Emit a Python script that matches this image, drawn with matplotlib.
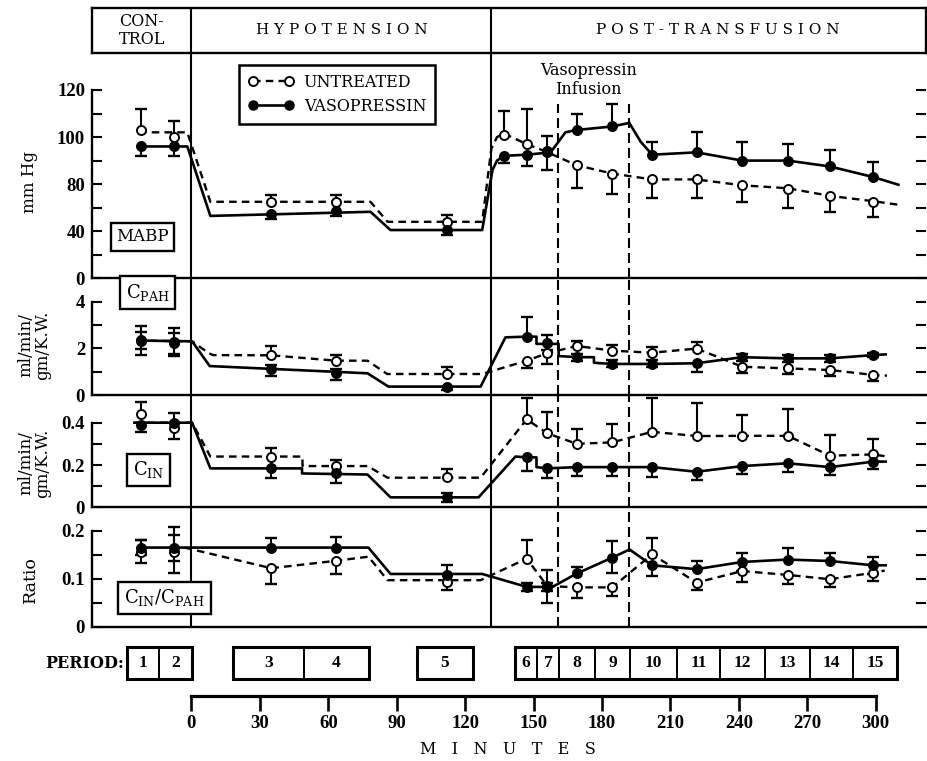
import numpy as np
import matplotlib
matplotlib.use("Agg")
import matplotlib.pyplot as plt
from matplotlib.patches import Rectangle
from matplotlib.lines import Line2D

plt.rcParams['font.family'] = ['DejaVu Serif']
plt.rcParams['mathtext.fontset'] = 'dejavuserif'

# ------------------------------------------------------------------ data
# sampling times, minutes after onset of hypotension
t_mabp = [-22, -7.5, 35, 63.5, 112, 137, 147, 156, 169, 184.5, 202, 221.5, 241.5, 261.5, 280, 299]
t_per = [-22, -7.5, 35, 63.5, 112, 147, 156, 169, 184.5, 202, 221.5, 241.5, 261.5, 280, 299]

# phase boundaries, minutes
t_hypotension = 0
t_transfusion = 131.5
t_infusion = [160.7, 191.9]

# mean arterial blood pressure, mm Hg
mabp_untr = [103, 100, 65, 65, 48, 101, 97, 94, 88, 84.5, 82, 82, 79, 76, 69.5, 65]
mabp_untr_lo = [0, 0, 0, 0, 0, 0, 0, 8, 11, 13, 14, 14, 14, 16, 13, 13]
mabp_untr_hi = [9, 7, 6, 6, 6, 10, 15, 0, 0, 0, 0, 0, 0, 0, 0, 0]
mabp_vaso = [96, 96, 55, 57, 41, 92, 92.5, 93.5, 103, 104.5, 92.5, 93.5, 90, 90, 87.5, 83]
mabp_vaso_lo = [4, 4, 5, 4, 4, 3, 5, 0, 0, 0, 0, 0, 0, 0, 0, 0]
mabp_vaso_hi = [0, 0, 0, 0, 0, 0, 0, 7, 7, 9.5, 5.5, 8.5, 8, 7, 7, 6.5]
mabp_untr_curve_t = [-23, -1.8, 8.3, 78.5, 86, 127.5, 131.5, 134, 137, 147, 155, 169, 184.5, 202, 221.5, 241.5, 261.5, 280, 299, 310]
mabp_untr_curve_v = [102, 102, 65, 65, 48, 48, 95, 100, 101.5, 97, 94, 88, 84.5, 82, 82, 79, 76.5, 70, 65.5, 62.5]
mabp_vaso_curve_t = [-22, -1.8, 8.3, 78.5, 87.3, 127.5, 132, 134, 137, 147, 157.5, 164, 169, 184.5, 192, 197, 202, 221.5, 241.5, 261.5, 280, 299, 310]
mabp_vaso_curve_v = [96, 96, 53, 56.5, 41, 41, 86, 90, 92, 92.5, 93.5, 102, 103, 104.5, 106, 98, 92.5, 93.5, 90, 90, 87.5, 83, 79.5]

# PAH clearance, ml/min/gm K.W.
cpah_untr = [2.33, 2.24, 1.70, 1.47, 0.90, 1.47, 1.79, 2.10, 1.90, 1.81, 1.99, 1.21, 1.14, 1.07, 0.86]
cpah_untr_lo = [0.62, 0.56, 0, 0, 0, 0.33, 0.48, 0, 0, 0, 0, 0.28, 0.25, 0.25, 0.25]
cpah_untr_hi = [0.64, 0.62, 0.40, 0.25, 0.31, 0, 0, 0.23, 0.25, 0.23, 0.29, 0, 0, 0, 0]
cpah_vaso = [2.36, 2.29, 1.11, 0.93, 0.33, 2.50, 2.24, 1.62, 1.33, 1.33, 1.36, 1.62, 1.57, 1.57, 1.71]
cpah_vaso_lo = [0.39, 0.53, 0.30, 0.28, 0.10, 0, 0.30, 0.15, 0.15, 0.15, 0.39, 0.15, 0.15, 0.15, 0.10]
cpah_vaso_hi = [0.35, 0.35, 0.18, 0.18, 0, 0.86, 0.33, 0.15, 0.15, 0.15, 0, 0.15, 0.15, 0.15, 0.10]
cpah_untr_curve_t = [-24, 0.3, 7.6, 9.5, 35, 63.5, 77.2, 85.8, 127.5, 147, 156, 169, 184.5, 202, 221.5, 241.5, 261.5, 280, 299, 305]
cpah_untr_curve_v = [2.33, 2.3, 1.79, 1.71, 1.70, 1.47, 1.47, 0.90, 0.90, 1.47, 1.79, 2.10, 1.90, 1.81, 1.99, 1.21, 1.14, 1.07, 0.86, 0.83]
cpah_vaso_curve_t = [-21, 0.3, 8, 77.2, 86.4, 126.8, 137.7, 147, 151.3, 151.3, 161, 161, 169, 176.5, 176.5, 184.5, 202, 221.5, 241.5, 261.5, 280, 299, 304.4]
cpah_vaso_curve_v = [2.33, 2.3, 1.24, 0.93, 0.36, 0.36, 2.47, 2.5, 2.5, 2.19, 2.19, 1.67, 1.62, 1.62, 1.38, 1.33, 1.33, 1.36, 1.62, 1.57, 1.57, 1.71, 1.74]

# inulin clearance, ml/min/gm K.W.
cin_untr = [0.44, 0.373, 0.24, 0.195, 0.142, 0.416, 0.35, 0.30, 0.307, 0.357, 0.337, 0.338, 0.338, 0.244, 0.25]
cin_untr_lo = [0, 0.05, 0, 0, 0, 0, 0, 0, 0, 0, 0, 0, 0, 0, 0]
cin_untr_hi = [0.06, 0, 0.04, 0.03, 0.04, 0.10, 0.10, 0.07, 0.087, 0.16, 0.155, 0.10, 0.125, 0.10, 0.075]
cin_vaso = [0.39, 0.40, 0.184, 0.16, 0.047, 0.236, 0.184, 0.19, 0.19, 0.19, 0.168, 0.195, 0.208, 0.19, 0.216]
cin_vaso_lo = [0.035, 0, 0.045, 0.045, 0.02, 0.065, 0.047, 0.04, 0.04, 0.045, 0.04, 0.038, 0.04, 0.035, 0.036]
cin_vaso_hi = [0, 0.045, 0, 0, 0.02, 0, 0, 0, 0, 0, 0, 0, 0, 0, 0]
cin_untr_curve_t = [-25, 0.3, 8.3, 48.7, 48.7, 77.2, 86, 126.8, 147, 156, 169, 184.5, 202, 221.5, 241.5, 261.5, 280, 299, 305]
cin_untr_curve_v = [0.40, 0.40, 0.24, 0.24, 0.195, 0.195, 0.14, 0.14, 0.416, 0.35, 0.30, 0.307, 0.357, 0.337, 0.338, 0.338, 0.244, 0.25, 0.24]
cin_vaso_curve_t = [-25, 0.3, 8.3, 48.5, 48.5, 77.2, 87.3, 125.9, 142.1, 147, 151.3, 151.3, 156, 169, 184.5, 202, 221.5, 241.5, 261.5, 280, 299, 304.4]
cin_vaso_curve_v = [0.40, 0.40, 0.184, 0.184, 0.16, 0.155, 0.047, 0.047, 0.24, 0.236, 0.236, 0.19, 0.184, 0.19, 0.19, 0.19, 0.168, 0.195, 0.208, 0.19, 0.216, 0.216]

# C_IN / C_PAH ratio
ratio_untr = [0.156, 0.156, 0.122, 0.1375, 0.094, 0.142, 0.085, 0.082, 0.082, 0.151, 0.092, 0.116, 0.108, 0.099, 0.1125]
ratio_untr_lo = [0.024, 0.045, 0.032, 0.027, 0.018, 0, 0.035, 0.023, 0.018, 0, 0.016, 0.022, 0.018, 0.016, 0.018]
ratio_untr_hi = [0.024, 0.052, 0, 0, 0, 0.039, 0.033, 0, 0, 0.035, 0, 0, 0, 0, 0]
ratio_vaso = [0.165, 0.165, 0.165, 0.165, 0.108, 0.083, 0.083, 0.111, 0.144, 0.128, 0.12, 0.135, 0.14, 0.137, 0.128]
ratio_vaso_lo = [0.016, 0.028, 0, 0, 0, 0.008, 0.008, 0, 0.033, 0.022, 0, 0.018, 0, 0, 0.018]
ratio_vaso_hi = [0.016, 0.026, 0.021, 0.022, 0.02, 0.008, 0.008, 0.014, 0.035, 0, 0.018, 0.018, 0.025, 0.017, 0.018]
ratio_untr_curve_t = [-3, 35, 63.5, 77.6, 86, 126.8, 147, 156, 169, 184.5, 202, 221.5, 241.5, 261.5, 280, 299, 304]
ratio_untr_curve_v = [0.165, 0.122, 0.1375, 0.146, 0.097, 0.097, 0.142, 0.085, 0.082, 0.082, 0.151, 0.092, 0.116, 0.108, 0.099, 0.1125, 0.117]
ratio_vaso_curve_t = [-22, 77.6, 87.3, 127.5, 147, 158.3, 169, 184.5, 192.1, 202, 221.5, 241.5, 261.5, 280, 299, 304.4]
ratio_vaso_curve_v = [0.165, 0.165, 0.11, 0.11, 0.083, 0.083, 0.111, 0.144, 0.161, 0.128, 0.12, 0.135, 0.14, 0.137, 0.128, 0.128]

# collection periods
period_names = [str(i) for i in range(1, 16)]
period_start = [-28.3, -14.3, 18.2, 49.3, 98.9, 142, 151.5, 161.2, 177, 192.3, 212.9, 231.8, 251.5, 271.3, 290.1]
period_end = [-14.3, 0.2, 49.3, 77.9, 123.5, 151.5, 161.2, 177, 192.3, 212.9, 231.8, 251.5, 271.3, 290.1, 309.4]
period_group = [0, 0, 1, 1, 2, 3, 3, 3, 3, 3, 3, 3, 3, 3, 3]
minute_ticks = list(range(0, 301, 30))

# ------------------------------------------------------------------ layout
W, H = 928, 761
fig = plt.figure(figsize=(W / 100, H / 100), dpi=100)
fig.patch.set_facecolor('white')

X0, X1 = 92, 926
XLIM = (-43.6, 322.1)
NUM = dict(fontfamily='Liberation Serif', fontweight='bold', fontsize=13.5)
DASH = (0, (3.2, 2.2))
VDASH = (0, (4.8, 2.4))


def fx(x):
    return x / W


def fy(y):
    return 1 - y / H


def strip(ytop, ybot):
    return fig.add_axes([fx(X0), fy(ybot), (X1 - X0) / W, (ybot - ytop) / H])


def style_panel(ax, ylim, ticks, labels, top):
    ax.set_xlim(XLIM)
    ax.set_ylim(ylim)
    ax.patch.set_visible(False)
    for s in ('top', 'right'):
        ax.spines[s].set_visible(False)
    ax.spines['left'].set_bounds(0, top)
    ax.spines['left'].set_linewidth(1.7)
    ax.spines['bottom'].set_linewidth(1.7)
    ax.set_xticks([])
    ax.set_yticks(ticks, labels, **NUM)
    ax.tick_params(axis='y', direction='in', length=7, width=1.5,
                   left=True, right=True, pad=5)
    ax.axvline(t_hypotension, color='k', lw=1.5, zorder=1)
    ax.axvline(t_transfusion, color='k', lw=1.5, zorder=1)


def draw_series(ax, t, y, lo, hi, curve_t, curve_v, filled):
    t, y, lo, hi = (np.asarray(a, float) for a in (t, y, lo, hi))
    ls = '-' if filled else DASH
    ax.plot(curve_t, curve_v, color='k', lw=1.9 if filled else 1.7,
            linestyle=ls, zorder=2, solid_joinstyle='round')
    ax.vlines(t, y - lo, y + hi, color='k', lw=1.5, zorder=3)
    up = hi > 0
    dn = lo > 0
    cap = dict(ls='none', marker='_', ms=8, mew=1.7, color='k', zorder=3)
    ax.plot(t[up], (y + hi)[up], **cap)
    ax.plot(t[dn], (y - lo)[dn], **cap)
    ax.plot(t, y, ls='none', marker='o', ms=6.5, mew=1.4, mec='k',
            mfc='k' if filled else 'white', zorder=5)


# ---- header strip with phase names
ax_h = strip(8, 53)
ax_h.set_xlim(XLIM)
ax_h.set_ylim(0, 1)
ax_h.set_xticks([])
ax_h.set_yticks([])
for s in ax_h.spines.values():
    s.set_linewidth(1.7)
ax_h.axvline(t_hypotension, color='k', lw=1.5)
ax_h.axvline(t_transfusion, color='k', lw=1.5)
ax_h.text((XLIM[0] + t_hypotension) / 2, 0.5, 'CON-\nTROL', ha='center',
          va='center', fontsize=11.5, linespacing=1.05)
ax_h.text((t_hypotension + t_transfusion) / 2, 0.5, 'H Y P O T E N S I O N',
          ha='center', va='center', fontsize=11)
ax_h.text((t_transfusion + XLIM[1]) / 2 + 4, 0.5,
          'P O S T - T R A N S F U S I O N', ha='center', va='center',
          fontsize=11)

# ---- MABP panel (axis compressed below 80 mm Hg)
def fwd(v):
    v = np.asarray(v, float)
    return np.where(v <= 80, v / 2, v - 40)


def inv(u):
    u = np.asarray(u, float)
    return np.where(u <= 40, u * 2, u + 40)


ax_m = strip(53, 278.3)
ax_m.set_yscale('function', functions=(fwd, inv))
style_panel(ax_m, (0, 135.7), [0, 20, 40, 60, 80, 90, 100, 110, 120],
            ['0', '', '40', '', '80', '', '100', '', '120'], 120)
ax_m.vlines(t_infusion, 0, 114, color='k', lw=1.5, linestyles=[VDASH])
draw_series(ax_m, t_mabp, mabp_untr, mabp_untr_lo, mabp_untr_hi,
            mabp_untr_curve_t, mabp_untr_curve_v, False)
draw_series(ax_m, t_mabp, mabp_vaso, mabp_vaso_lo, mabp_vaso_hi,
            mabp_vaso_curve_t, mabp_vaso_curve_v, True)

handles = [Line2D([], [], color='k', lw=1.7, linestyle=DASH, marker='o', ms=6.5,
                  mfc='white', mec='k', mew=1.4),
           Line2D([], [], color='k', lw=1.9, marker='o', ms=6.5, mfc='k', mec='k')]
leg = ax_m.legend(handles, ['UNTREATED', 'VASOPRESSIN'], loc='upper left',
                  bbox_to_anchor=(fx(239), fy(65)), bbox_transform=fig.transFigure,
                  borderaxespad=0, numpoints=2, handlelength=2.9,
                  handletextpad=0.6, labelspacing=0.45, borderpad=0.55,
                  fancybox=False, framealpha=1, edgecolor='k', fontsize=11.5)
leg.get_frame().set_linewidth(1.8)

# ---- C_PAH panel
ax_p = strip(278.3, 395)
style_panel(ax_p, (0, 5.0), [0, 1, 2, 3, 4], ['0', '', '2', '', '4'], 4)
for ti in t_infusion:
    ax_p.axvline(ti, color='k', lw=1.5, linestyle=VDASH)
draw_series(ax_p, t_per, cpah_untr, cpah_untr_lo, cpah_untr_hi,
            cpah_untr_curve_t, cpah_untr_curve_v, False)
draw_series(ax_p, t_per, cpah_vaso, cpah_vaso_lo, cpah_vaso_hi,
            cpah_vaso_curve_t, cpah_vaso_curve_v, True)

# ---- C_IN panel
ax_i = strip(395, 507.3)
style_panel(ax_i, (0, 0.531), [0, 0.1, 0.2, 0.3, 0.4], ['0', '', '0.2', '', '0.4'], 0.4)
for ti in t_infusion:
    ax_i.axvline(ti, color='k', lw=1.5, linestyle=VDASH)
draw_series(ax_i, t_per, cin_untr, cin_untr_lo, cin_untr_hi,
            cin_untr_curve_t, cin_untr_curve_v, False)
draw_series(ax_i, t_per, cin_vaso, cin_vaso_lo, cin_vaso_hi,
            cin_vaso_curve_t, cin_vaso_curve_v, True)

# ---- ratio panel
ax_r = strip(507.3, 626.7)
style_panel(ax_r, (0, 0.249), [0, 0.05, 0.1, 0.15, 0.2], ['0', '', '0.1', '', '0.2'], 0.2)
for ti in t_infusion:
    ax_r.axvline(ti, color='k', lw=1.5, linestyle=VDASH)
draw_series(ax_r, t_per, ratio_untr, ratio_untr_lo, ratio_untr_hi,
            ratio_untr_curve_t, ratio_untr_curve_v, False)
draw_series(ax_r, t_per, ratio_vaso, ratio_vaso_lo, ratio_vaso_hi,
            ratio_vaso_curve_t, ratio_vaso_curve_v, True)

# ---- period boxes
ax_b = strip(647, 679)
ax_b.set_xlim(XLIM)
ax_b.set_ylim(0, 1)
ax_b.axis('off')
for name, s, e in zip(period_names, period_start, period_end):
    ax_b.add_patch(Rectangle((s, 0), e - s, 1, fill=False, lw=1.3,
                             edgecolor='k', clip_on=False))
    ax_b.text((s + e) / 2, 0.5, name, ha='center', va='center',
              fontfamily='Liberation Serif', fontweight='bold', fontsize=12.5)
for g in sorted(set(period_group)):
    idx = [i for i, pg in enumerate(period_group) if pg == g]
    s = min(period_start[i] for i in idx)
    e = max(period_end[i] for i in idx)
    ax_b.add_patch(Rectangle((s, 0), e - s, 1, fill=False, lw=2.2,
                             edgecolor='k', clip_on=False))
fig.text(fx(124), fy(663), 'PERIOD:', ha='right', va='center',
         fontweight='bold', fontsize=11.5)

# ---- minutes axis
ax_t = strip(686, 696)
ax_t.set_xlim(XLIM)
ax_t.patch.set_visible(False)
for s in ('top', 'left', 'right'):
    ax_t.spines[s].set_visible(False)
ax_t.spines['bottom'].set_bounds(0, 300)
ax_t.spines['bottom'].set_linewidth(2.3)
ax_t.set_yticks([])
ax_t.set_xticks(minute_ticks, [str(v) for v in minute_ticks], **NUM)
ax_t.tick_params(axis='x', direction='out', length=11, width=1.9, pad=3)
fig.text(fx(508), fy(750), 'M   I   N   U   T   E   S', ha='center',
         va='center', fontsize=11.5)

# ---- annotations
fig.text(fx(588.5), fy(80), 'Vasopressin\nInfusion', ha='center', va='center',
         fontsize=11.5, linespacing=1.1)

box = dict(boxstyle='square,pad=0.33', fc='white', ec='k', lw=1.7)
fig.text(fx(142.5), fy(236.5), 'MABP', ha='center', va='center', fontsize=12,
         bbox=box, zorder=6)
fig.text(fx(147.5), fy(292.5), r'C$_{\mathregular{PAH}}$', ha='center',
         va='center', fontsize=13, bbox=box, zorder=6)
fig.text(fx(148.5), fy(470), r'C$_{\mathregular{IN}}$', ha='center',
         va='center', fontsize=13, bbox=box, zorder=6)
fig.text(fx(164.5), fy(598), r'C$_{\mathregular{IN}}$/C$_{\mathregular{PAH}}$',
         ha='center', va='center', fontsize=13, bbox=box, zorder=6)

fig.text(fx(30), fy(182), 'mm Hg', rotation=90, ha='center', va='center',
         fontsize=12)
fig.text(fx(34), fy(345), 'ml/min/\ngm/K.W.', rotation=90, ha='center',
         va='center', fontsize=12, linespacing=1.0)
fig.text(fx(34), fy(463), 'ml/min/\ngm/K.W.', rotation=90, ha='center',
         va='center', fontsize=12, linespacing=1.0)
fig.text(fx(30), fy(580), 'Ratio', rotation=90, ha='center', va='center',
         fontsize=12.5)

fig.savefig('out.png', dpi=100, facecolor='white')
